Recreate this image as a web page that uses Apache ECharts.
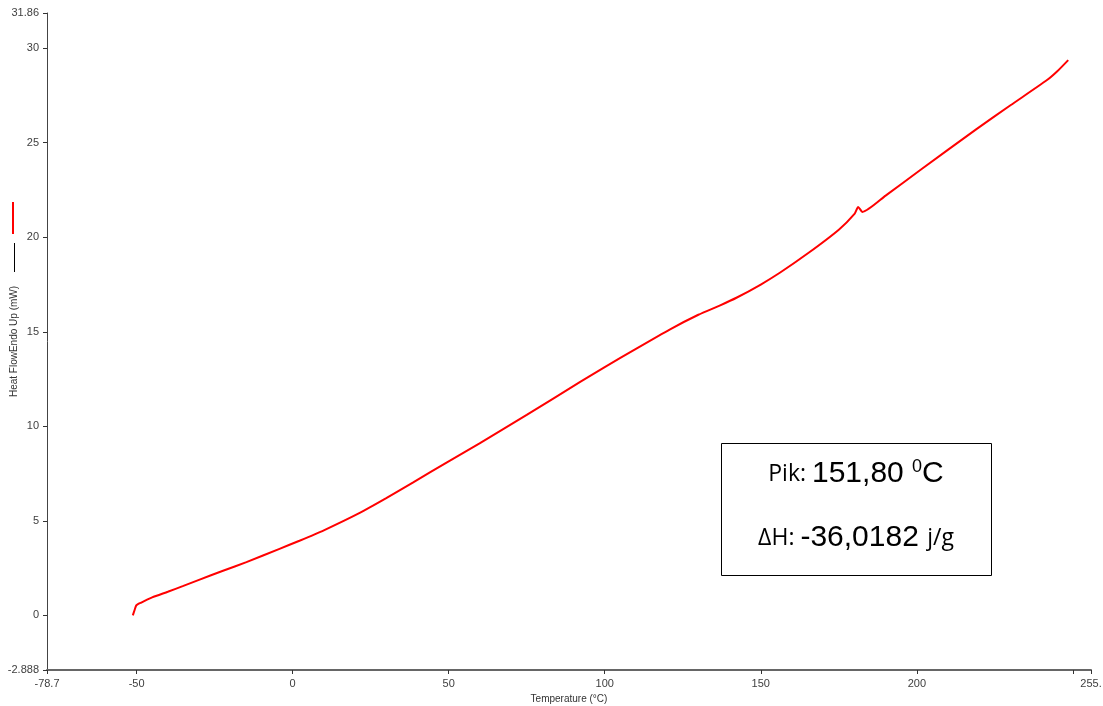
<!DOCTYPE html>
<html>
<head>
<meta charset="utf-8">
<script src="https://cdn.jsdelivr.net/npm/echarts@6/dist/echarts.min.js"></script>
<style>
	html, body { margin: 0; padding: 0; background: #fff; }
	#chart { width: 1103px; height: 706px; }
</style>
</head>
<body>
<div id="chart"></div>
<script>
	// temperature (°C) and heat flow (mW)
	const temperature = [-51.2, -50.6, -50.1, -49.3, -48.5, -45, -40, -35, -30, -22.3, -14.8, -4.2, 2.2, 10, 21.5, 30, 38.5, 50, 59.9, 75, 92, 100, 110, 120.8, 130, 137, 142.2, 150, 156.1, 165.1, 175, 180.1, 181.2, 182.6, 190, 201, 219.1, 230, 241.6, 245, 248.5]
	const heatFlow = [0.0, 0.3, 0.53, 0.62, 0.68, 0.95, 1.25, 1.56, 1.88, 2.36, 2.82, 3.52, 3.95, 4.5, 5.42, 6.2, 7.02, 8.15, 9.1, 10.6, 12.34, 13.13, 14.1, 15.12, 15.9, 16.4, 16.8, 17.5, 18.12, 19.15, 20.4, 21.25, 21.6, 21.34, 22.2, 23.54, 25.72, 26.98, 28.3, 28.78, 29.37]

	const xMin = -78.7
	const xMax = 255.8
	const yMin = -2.888
	const yMax = 31.86
	const xTicks = [xMin, -50, 0, 50, 100, 150, 200, 250, xMax]
	const xLabels = [xMin, -50, 0, 50, 100, 150, 200, xMax]
	const yTicks = [yMin, 0, 5, 10, 15, 20, 25, 30, yMax]

	const axisFont = { fontFamily: 'Liberation Sans', fontSize: 11, color: '#404040' }

	const chart = echarts.init(document.getElementById('chart'))
	chart.setOption({
		animation: false,
		grid: { left: 47, right: 12, top: 13, bottom: 36, containLabel: false, outerBoundsMode: 'none' },
		xAxis: {
			type: 'value',
			min: xMin,
			max: xMax,
			name: 'Temperature (°C)',
			nameLocation: 'middle',
			nameGap: 24,
			nameMoveOverlap: false,
			nameTextStyle: { fontFamily: 'Liberation Sans', fontSize: 10, color: '#333' },
			splitLine: { show: false },
			axisLine: { onZero: false, lineStyle: { color: '#666', width: 2 } },
			axisTick: { customValues: xTicks, length: 4, lineStyle: { color: '#333' } },
			axisLabel: {
				customValues: xLabels,
				margin: 8,
				...axisFont,
				formatter: (v) => (v === xMax ? '255.' : String(v))
			}
		},
		yAxis: {
			type: 'value',
			min: yMin,
			max: yMax,
			name: 'Heat FlowEndo Up (mW)',
			nameLocation: 'middle',
			nameGap: 28,
			nameMoveOverlap: false,
			nameTextStyle: { fontFamily: 'Liberation Sans', fontSize: 10, color: '#333' },
			splitLine: { show: false },
			axisLine: { show: true, onZero: false, lineStyle: { color: '#444', width: 1 } },
			axisTick: { show: true, customValues: yTicks, length: 4, lineStyle: { color: '#333' } },
			axisLabel: { customValues: yTicks, margin: 8, ...axisFont }
		},
		series: [
			{
				type: 'line',
				data: temperature.map((t, i) => [t, heatFlow[i]]),
				showSymbol: false,
				smooth: 0.2,
				lineStyle: { color: '#ff0000', width: 2 }
			}
		],
		graphic: [
			// legend swatches beside the y axis title
			{ type: 'line', shape: { x1: 13, y1: 202, x2: 13, y2: 234 }, style: { stroke: '#ff0000', lineWidth: 2 } },
			{ type: 'line', shape: { x1: 14.5, y1: 243, x2: 14.5, y2: 272 }, style: { stroke: '#000', lineWidth: 1 } },
			// result box
			{ type: 'rect', shape: { x: 721.5, y: 443.5, width: 270, height: 132 }, style: { fill: '#fff', stroke: '#000', lineWidth: 1 } },
			{
				type: 'text',
				x: 856,
				y: 474,
				style: {
					text: '{a|Pik: }{b|151,80 }{s|0}{b|C}',
					align: 'center',
					verticalAlign: 'middle',
					rich: {
						a: { fontFamily: 'Open Sans', fontSize: 23, fill: '#000' },
						b: { fontFamily: 'Liberation Sans', fontSize: 30, fill: '#000' },
						s: { fontFamily: 'Liberation Sans', fontSize: 18, fill: '#000', verticalAlign: 'top', padding: [0, 0, 14, 0] }
					}
				}
			},
			{
				type: 'text',
				x: 856,
				y: 538,
				style: {
					text: '{a|ΔH: }{b|-36,0182 }{a|j/g}',
					align: 'center',
					verticalAlign: 'middle',
					rich: {
						a: { fontFamily: 'Open Sans', fontSize: 23, fill: '#000' },
						b: { fontFamily: 'Liberation Sans', fontSize: 30, fill: '#000' }
					}
				}
			}
		]
	})

	window.onresize = () => {
		chart.resize()
	}
</script>
</body>
</html>
